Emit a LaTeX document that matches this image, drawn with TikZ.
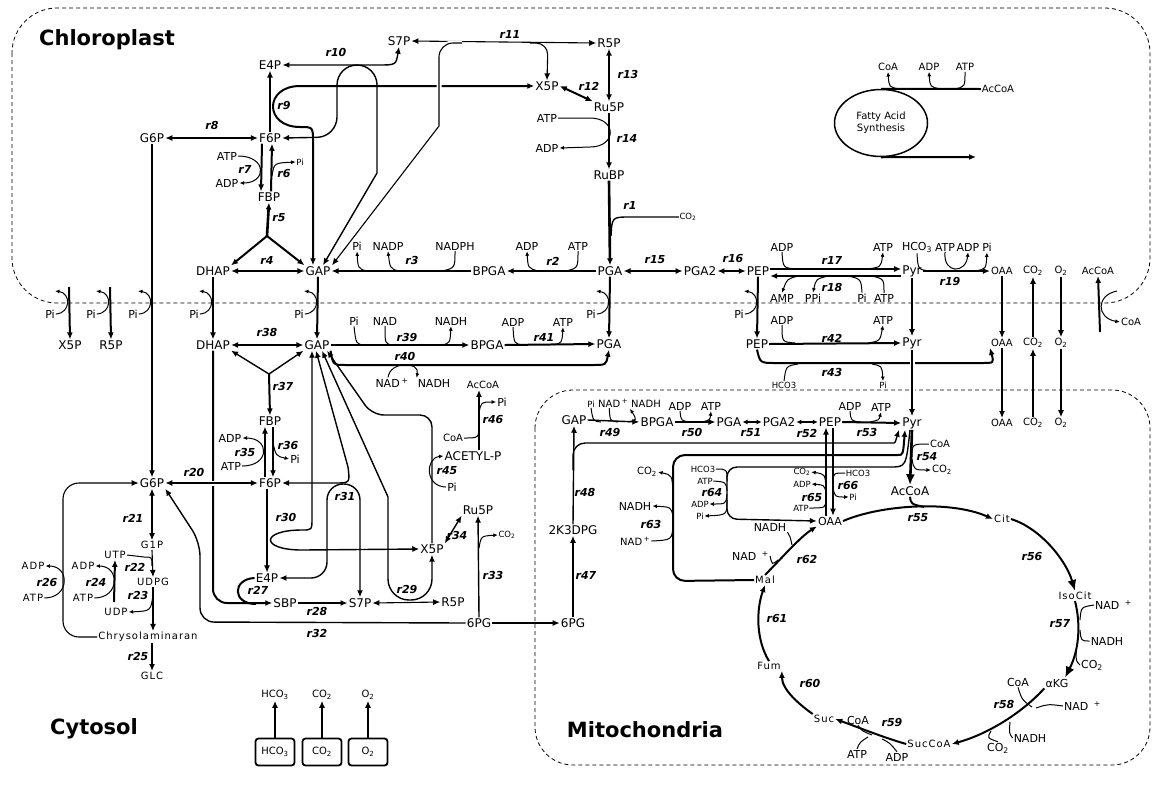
\documentclass[tikz,border=0pt]{standalone}
\usepackage{fontspec}
\setmainfont{DejaVu Sans}
\newfontfamily\spacedsans[LetterSpace=10]{DejaVu Sans}
\usetikzlibrary{arrows.meta,shapes.geometric}

\tikzset{
  met/.style={inner sep=1pt, font=\fontsize{12}{14}\selectfont},
  cof/.style={inner sep=1pt, font=\fontsize{11}{13}\selectfont},
  sm/.style={inner sep=1pt, font=\fontsize{10}{12}\selectfont},
  tiny/.style={inner sep=0.5pt, font=\fontsize{8.5}{10}\selectfont},
  wmet/.style={inner sep=1pt, font=\spacedsans\fontsize{10}{12}\selectfont},
  rxn/.style={inner sep=0pt, font=\fontsize{11}{13}\selectfont\bfseries\itshape},
  title/.style={font=\fontsize{21}{24}\selectfont\bfseries},
  flux/.style={line width=2pt},
  heavy/.style={line width=2.6pt},
  link/.style={line width=1.4pt},
  fine/.style={line width=1.1pt},
  sub/.style={line width=1pt},
  prod/.style={line width=1pt, arrows={-Latex[length=4.5pt,width=4pt]}},
  dbl/.style={line width=1.4pt, arrows={Latex[length=5pt,width=5pt]-Latex[length=5pt,width=5pt]}},
  memb/.style={line width=0.8pt, dash pattern=on 4pt off 3pt},
  gapw/.style={preaction={draw=white, line width=5pt, -}},
  box/.style={draw, line width=1.8pt, rounded corners=3pt, minimum width=39pt, minimum height=27pt, font=\fontsize{10}{12}\selectfont}
}

\begin{document}
\begin{tikzpicture}[x=1pt,y=-1pt,>={Latex[length=7pt,width=6pt]}]
\path[use as bounding box, fill=white] (0,0) rectangle (1155,793);

% compartments
\draw[memb, rounded corners=45pt] (12,8) rectangle (1150,303);
\draw[memb, rounded corners=38pt] (535,390) rectangle (1150,765);
\node[title] (chl) at (107,40) {Chloroplast};
\node[title] (cyt) at (94,729) {Cytosol};
\node[title] (mit) at (645,730) {Mitochondria};

% chloroplast metabolites
\node[met] (E4Pp) at (270,65) {E4P};
\node[met] (S7Pp) at (399,41) {S7P};
\node[met] (R5Pp) at (609,43) {R5P};
\node[met] (X5Pp) at (547,86) {X5P};
\node[met] (Ru5Pp) at (609,107) {Ru5P};
\node[cof] (ATP14) at (547,118) {ATP};
\node[cof] (ADP14) at (547,148) {ADP};
\node[met] (RuBPp) at (609,175) {RuBP};
\node[tiny] (CO2r1) at (688,217) {CO\textsubscript{2}};
\node[met] (G6Pp) at (152,138) {G6P};
\node[met] (F6Pp) at (270,138) {F6P};
\node[cof] (ATP7) at (227,156) {ATP};
\node[cof] (ADP7) at (227,183) {ADP};
\node[tiny] (Pi6) at (300,162) {Pi};
\node[met] (FBPp) at (269,197) {FBP};
\node[met] (DHAPp) at (213,271) {DHAP};
\node[met] (GAPp) at (318,271) {GAP};
\node[cof] (Pi3) at (357,246) {Pi};
\node[cof] (NADP3) at (388,246) {NADP};
\node[cof] (NADPH3) at (455,246) {NADPH};
\node[met] (BPGAp) at (489,271) {BPGA};
\node[cof] (ADP2) at (527,246) {ADP};
\node[cof] (ATP2) at (578,246) {ATP};
\node[met] (PGAp) at (610,271) {PGA};
\node[met] (PGA2p) at (700,271) {PGA2};
\node[met] (PEPp) at (758,271) {PEP};
\node[cof] (ADP17) at (782,247) {ADP};
\node[cof] (ATP17) at (883,247) {ATP};
\node[met] (Pyrp) at (912,271) {Pyr};
\node[cof] (HCO19) at (917,247) {HCO\textsubscript{3}};
\node[cof] (ATP19) at (945,247) {ATP};
\node[cof] (ADP19) at (968,247) {ADP};
\node[cof] (Pi19) at (987,247) {Pi};
\node[cof] (AMP18) at (782,298) {AMP};
\node[cof] (PPi18) at (813,298) {PPi};
\node[cof] (Pi18) at (862,298) {Pi};
\node[cof] (ATP18) at (884,298) {ATP};
\node[sm] (OAAp) at (1002,271) {OAA};
\node[sm] (CO2p) at (1033,271) {CO\textsubscript{2}};
\node[sm] (O2p) at (1061,271) {O\textsubscript{2}};
\node[sm] (AcCoAp) at (1098,271) {AcCoA};
\node[draw, ellipse, line width=1.5pt, minimum width=93pt, minimum height=67pt, inner sep=0pt, align=center, font=\fontsize{10}{12}\selectfont] (FAS) at (881,123) {Fatty Acid\\Synthesis};
\node[sm] (CoAfa) at (888,67) {CoA};
\node[sm] (ADPfa) at (929,67) {ADP};
\node[sm] (ATPfa) at (965,67) {ATP};
\node[sm] (AcCoAfa) at (998,89) {AcCoA};
\coordinate (FAend) at (976,157);

% transporter Pi
\node[cof] (PiX) at (50,314) {Pi};
\node[cof] (PiR) at (91,314) {Pi};
\node[cof] (PiG) at (133,314) {Pi};
\node[cof] (PiD) at (194,314) {Pi};
\node[cof] (PiA) at (299,314) {Pi};
\node[cof] (PiP) at (591,314) {Pi};
\node[cof] (PiE) at (739,314) {Pi};

% cytosol metabolites
\node[met] (X5Py) at (70,345) {X5P};
\node[met] (R5Py) at (111,345) {R5P};
\node[met] (DHAPy) at (213,345) {DHAP};
\node[met] (GAPy) at (317,345) {GAP};
\node[cof] (Pi39) at (354,321) {Pi};
\node[cof] (NAD39) at (385,321) {NAD};
\node[cof] (NADH39) at (451,321) {NADH};
\node[met] (BPGAy) at (487,345) {BPGA};
\node[cof] (ADP41) at (513,322) {ADP};
\node[cof] (ATP41) at (563,322) {ATP};
\node[met] (PGAy) at (609,344) {PGA};
\node[cof] (NAD40) at (392,383) {NAD\,\textsuperscript{+}};
\node[cof] (NADH40) at (434,383) {NADH};
\node[sm] (AcCoA46) at (483,385) {AcCoA};
\node[cof] (Pi46) at (502,402) {Pi};
\node[sm] (CoA46) at (453,438) {CoA};
\node[met] (AcP) at (473,456) {ACETYL-P};
\node[cof] (Pi45) at (452,487) {Pi};
\node[met] (Ru5Py) at (478,510) {Ru5P};
\node[met] (X5Py2) at (432,549) {X5P};
\node[tiny] (CO233) at (507,535) {CO\textsubscript{2}};
\node[met] (PG6y) at (479,623) {6PG};
\node[met] (R5Py2) at (453,602) {R5P};
\node[met] (S7Py) at (360,603) {S7P};
\node[met] (SBPy) at (285,603) {SBP};
\node[met] (E4Py) at (267,578) {E4P};
\node[met] (FBPy) at (270,421) {FBP};
\node[cof] (ADP35) at (230,438) {ADP};
\node[cof] (ATP35) at (231,466) {ATP};
\node[cof] (Pi36) at (295,459) {Pi};
\node[met] (G6Py) at (152,483) {G6P};
\node[met] (F6Py) at (270,483) {F6P};
\node[wmet] (G1P) at (152,545) {G1P};
\node[wmet] (UTP) at (115,555) {UTP};
\node[wmet] (UDPG) at (153,582) {UDPG};
\node[wmet] (UDP) at (116,612) {UDP};
\node[wmet] (Chrys) at (148,637) {Chrysolaminaran};
\node[wmet] (GLC) at (152,676) {GLC};
\node[wmet] (ADP26) at (33,566) {ADP};
\node[wmet] (ATP26) at (33,598) {ATP};
\node[wmet] (ADP24) at (83,566) {ADP};
\node[wmet] (ATP24) at (83,598) {ATP};
\node[met] (PEPy) at (757,344) {PEP};
\node[cof] (ADP42) at (782,320) {ADP};
\node[cof] (ATP42) at (883,320) {ATP};
\node[met] (Pyry) at (912,343) {Pyr};
\node[tiny] (HCO43) at (784,385) {HCO3};
\node[tiny] (Pi43) at (883,385) {Pi};
\node[sm] (OAAy) at (1002,343) {OAA};
\node[sm] (CO2y) at (1033,343) {CO\textsubscript{2}};
\node[sm] (O2y) at (1061,343) {O\textsubscript{2}};
\node[sm] (CoAy) at (1131,322) {CoA};
\node[box] (HCO3b) at (275,752) {HCO\textsubscript{3}};
\node[box] (CO2b) at (322,752) {CO\textsubscript{2}};
\node[box] (O2b) at (368,752) {O\textsubscript{2}};
\node[sm] (HCO3o) at (275,695) {HCO\textsubscript{3}};
\node[sm] (CO2o) at (322,695) {CO\textsubscript{2}};
\node[sm] (O2o) at (368,695) {O\textsubscript{2}};

% mitochondria metabolites
\node[met] (GAPm) at (574,420) {GAP};
\node[tiny] (Pi49) at (591,404) {Pi};
\node[sm,anchor=west] (NAD49) at (597,403) {NAD\,\textsuperscript{+}};
\node[sm] (NADH49) at (646,404) {NADH};
\node[met] (BPGAm) at (657,422) {BPGA};
\node[cof] (ADP50) at (680,406) {ADP};
\node[cof] (ATP50) at (711,406) {ATP};
\node[met] (PGAm) at (729,422) {PGA};
\node[met] (PGA2m) at (779,422) {PGA2};
\node[met] (PEPm) at (830,422) {PEP};
\node[cof] (ADP53) at (850,406) {ADP};
\node[cof] (ATP53) at (881,407) {ATP};
\node[met] (Pyrm) at (912,423) {Pyr};
\node[sm] (OAAm2) at (1002,423) {OAA};
\node[sm] (CO2m) at (1033,423) {CO\textsubscript{2}};
\node[sm] (O2m) at (1061,423) {O\textsubscript{2}};
\node[met] (KDPG) at (573,530) {2K3DPG};
\node[met] (PG6m) at (573,623) {6PG};
\node[sm] (CO263) at (647,472) {CO\textsubscript{2}};
\node[cof] (NADH63) at (635,506) {NADH};
\node[sm,anchor=west] (NAD63) at (619,541) {NAD\,\textsuperscript{+}};
\node[tiny] (HCO64) at (703,469) {HCO3};
\node[tiny] (ATP64) at (705,481) {ATP};
\node[tiny] (ADP64) at (700,504) {ADP};
\node[tiny] (Pi64) at (700,516) {Pi};
\node[tiny] (CO265) at (802,472) {CO\textsubscript{2}};
\node[tiny] (ADP65) at (802,484) {ADP};
\node[tiny] (ATP65) at (801,508) {ATP};
\node[tiny] (HCO66) at (858,473) {HCO3};
\node[tiny] (Pi66) at (853,497) {Pi};
\node[met] (AcCoAm) at (910,491) {AcCoA};
\node[sm] (CoA54) at (940,444) {CoA};
\node[sm] (CO254) at (942,470) {CO\textsubscript{2}};
\node[cof] (OAAm) at (830,521) {OAA};
\node[wmet] (Cit) at (1002,519) {Cit};
\node[wmet] (IsoCit) at (1075,596) {IsoCit};
\node[cof,anchor=west] (NAD57) at (1094,605) {NAD\enspace\textsuperscript{+}};
\node[cof] (NADH57) at (1107,641) {NADH};
\node[cof] (CO257) at (1092,665) {CO\textsubscript{2}};
\node[cof] (aKG) at (1057,683) {αKG};
\node[cof] (CoA58) at (1018,682) {CoA};
\node[cof,anchor=west] (NAD58) at (1063,706) {NAD\enspace\textsuperscript{+}};
\node[cof] (NADH58) at (1030,738) {NADH};
\node[cof] (CO258) at (998,748) {CO\textsubscript{2}};
\node[wmet] (SucCoA) at (929,744) {SucCoA};
\node[cof] (CoA59) at (858,720) {CoA};
\node[cof] (ATP59) at (857,754) {ATP};
\node[cof] (ADP59) at (897,757) {ADP};
\node[wmet] (Suc) at (824,719) {Suc};
\node[wmet] (Fum) at (769,666) {Fum};
\node[wmet] (Mal) at (765,580) {Mal};
\node[cof,anchor=west] (NAD62) at (731,556) {NAD\enspace\textsuperscript{+}};
\node[cof] (NADH62) at (770,527) {NADH};

% reaction labels
\node[rxn] (r1) at (630,205) {r1};
\node[rxn] (r2) at (553,261) {r2};
\node[rxn] (r3) at (412,260) {r3};
\node[rxn] (r4) at (267,260) {r4};
\node[rxn] (r5) at (279,218) {r5};
\node[rxn] (r6) at (284,174) {r6};
\node[rxn] (r7) at (245,169) {r7};
\node[rxn] (r8) at (212,125) {r8};
\node[rxn] (r9) at (284,106) {r9};
\node[rxn] (r10) at (336,52) {r10};
\node[rxn] (r11) at (510,34) {r11};
\node[rxn] (r12) at (589,86) {r12};
\node[rxn] (r13) at (628,74) {r13};
\node[rxn] (r14) at (627,138) {r14};
\node[rxn] (r15) at (655,260) {r15};
\node[rxn] (r16) at (733,258) {r16};
\node[rxn] (r17) at (832,260) {r17};
\node[rxn] (r18) at (832,287) {r18};
\node[rxn] (r19) at (950,281) {r19};
\node[rxn] (r20) at (194,472) {r20};
\node[rxn] (r21) at (133,518) {r21};
\node[rxn] (r22) at (135,567) {r22};
\node[rxn] (r23) at (138,595) {r23};
\node[rxn] (r24) at (96,582) {r24};
\node[rxn] (r25) at (138,656) {r25};
\node[rxn] (r26) at (47,582) {r26};
\node[rxn] (r27) at (258,590) {r27};
\node[rxn] (r28) at (317,611) {r28};
\node[rxn] (r29) at (407,589) {r29};
\node[rxn] (r30) at (286,517) {r30};
\node[rxn] (r31) at (345,496) {r31};
\node[rxn] (r32) at (317,633) {r32};
\node[rxn] (r33) at (493,575) {r33};
\node[rxn] (r34) at (457,535) {r34};
\node[rxn] (r35) at (245,452) {r35};
\node[rxn] (r36) at (288,445) {r36};
\node[rxn] (r37) at (283,386) {r37};
\node[rxn] (r38) at (267,332) {r38};
\node[rxn] (r39) at (407,337) {r39};
\node[rxn] (r40) at (405,356) {r40};
\node[rxn] (r41) at (544,337) {r41};
\node[rxn] (r42) at (832,338) {r42};
\node[rxn] (r43) at (832,372) {r43};
\node[rxn] (r45) at (447,471) {r45};
\node[rxn] (r46) at (493,419) {r46};
\node[rxn] (r47) at (586,575) {r47};
\node[rxn] (r48) at (585,492) {r48};
\node[rxn] (r49) at (610,432) {r49};
\node[rxn] (r50) at (692,432) {r50};
\node[rxn] (r51) at (751,433) {r51};
\node[rxn] (r52) at (807,433) {r52};
\node[rxn] (r53) at (867,432) {r53};
\node[rxn] (r54) at (927,457) {r54};
\node[rxn] (r55) at (918,518) {r55};
\node[rxn] (r56) at (1032,556) {r56};
\node[rxn] (r57) at (1060,624) {r57};
\node[rxn] (r58) at (1004,704) {r58};
\node[rxn] (r59) at (892,722) {r59};
\node[rxn] (r60) at (810,683) {r60};
\node[rxn] (r61) at (777,618) {r61};
\node[rxn] (r62) at (807,559) {r62};
\node[rxn] (r63) at (651,524) {r63};
\node[rxn] (r64) at (712,492) {r64};
\node[rxn] (r65) at (812,497) {r65};
\node[rxn] (r66) at (848,485) {r66};

% Calvin cycle
\draw[heavy,->] (RuBPp.south) -- (PGAp.north);
\draw[link] (CO2r1.west) -- (630,217) .. controls (612,217) .. (611,236);
\draw[flux,->] (PGAp.west) -- (BPGAp.east);
\draw[sub] (ATP2.south) .. controls (578,268) .. (566,271);
\draw[prod] (538,271) .. controls (528,268) .. (ADP2.south);
\draw[flux,->] (BPGAp.west) -- (GAPp.east);
\draw[sub] (NADPH3.south) .. controls (455,268) .. (442,271);
\draw[prod] (398,271) .. controls (390,268) .. (NADP3.south);
\draw[prod] (366,271) .. controls (358,268) .. (Pi3.south);
\draw[flux,<->] (DHAPp.east) -- (GAPp.west);
\coordinate (Y5) at (267,236);
\draw[heavy,->] (Y5) -- (FBPp.south);
\draw[flux,->] (Y5) -- (DHAPp.north east);
\draw[flux,->] (Y5) -- (GAPp.north west);
\draw[flux,->] ([xshift=-8pt]F6Pp.south) -- ([xshift=-8pt]FBPp.north);
\draw[flux,->] ([xshift=2pt]FBPp.north) -- ([xshift=2pt]F6Pp.south);
\draw[prod] (ATP7.east) .. controls (267,156) and (267,183) .. (ADP7.east);
\draw[prod] (272,176) .. controls (274,163) .. (Pi6.west);
\draw[flux,<->] (G6Pp.east) -- (F6Pp.west);
\draw[flux,->] (F6Pp.north) -- (E4Pp.south);
\draw[flux,<->] ([xshift=-5pt]GAPp.north) -- (313,142) .. controls (313,127) .. (300,127) .. controls (264,127) and (264,86) .. (300,86) -- (X5Pp.west);
\draw[link,<->] (E4Pp.east) -- (378,65) .. controls (396,65) .. (S7Pp.south);
\draw[link,<->] ([xshift=5pt]GAPp.north) -- (377,173) [rounded corners=20pt] -- (377,65) -- (337,65) -- (337,137) -- (F6Pp.east);
\draw[fine,<->] (S7Pp.east) -- (R5Pp.west);
\draw[fine,<-,gapw] ([xshift=14pt]GAPp.north) -- (439,126) [rounded corners=14pt] -- (439,43) -- (462,43);
\draw[fine,->] (530,43) [rounded corners=12pt] -- (548,43) -- (X5Pp.north);
\draw[flux,<->] (X5Pp.east) -- (Ru5Pp.north west);
\draw[flux,<->] (R5Pp.south) -- (Ru5Pp.north);
\draw[flux,->] (Ru5Pp.south) -- (RuBPp.north);
\draw[prod] (ATP14.east) -- (590,118) .. controls (617,118) and (617,147) .. (590,147) -- (ADP14.east);

% lower glycolysis and anaplerosis in the chloroplast
\draw[flux,<->] (PGAp.east) -- (PGA2p.west);
\draw[flux,<->] (PGA2p.east) -- (PEPp.west);
\draw[flux,->] ([yshift=2pt]PEPp.east) -- ([yshift=2pt]Pyrp.west);
\draw[sub] (ADP17.south) .. controls (783,268) .. (797,269);
\draw[prod] (868,269) .. controls (881,267) .. (ATP17.south);
\draw[flux,->] ([yshift=-5pt]Pyrp.west) -- ([yshift=-5pt]PEPp.east);
\draw[prod] (798,276) .. controls (787,279) .. (AMP18.north);
\draw[prod] (828,276) .. controls (816,279) .. (PPi18.north);
\draw[sub] (Pi18.north) .. controls (861,279) .. (848,276);
\draw[sub] (ATP18.north) .. controls (884,279) .. (872,276);
\draw[flux,->] (Pyrp.east) -- (OAAp.west);
\draw[sub] (HCO19.south) .. controls (918,270) .. (932,271);
\draw[prod] (ATP19.south) .. controls (943,274) and (966,274) .. (ADP19.south);
\draw[prod] (975,271) .. controls (986,269) .. (Pi19.south);
\draw[flux] (AcCoAfa.west) -- (FAS.north);
\draw[flux,->] (FAS.south) -- (FAend);
\draw[prod] (899,89) .. controls (889,87) .. (CoAfa.south);
\draw[prod] (941,89) .. controls (930,87) .. (ADPfa.south);
\draw[sub] (ATPfa.south) .. controls (965,87) .. (954,89);

% transport across the chloroplast envelope
\coordinate (X5Pin) at (69,287);
\coordinate (R5Pin) at (110,287);
\coordinate (AcCoAin) at (1100,332);
\draw[flux,->] (X5Pin) -- (X5Py.north);
\draw[flux,->] (R5Pin) -- (R5Py.north);
\draw[fine,->] (G6Pp.south) -- (G6Py.north);
\draw[flux,->] (DHAPp.south) -- (DHAPy.north);
\draw[flux,->] (GAPp.south) -- (GAPy.north);
\draw[flux,->] (PGAp.south) -- (PGAy.north);
\draw[flux,->] (PEPp.south) -- (PEPy.north);
\draw[flux,->] (Pyrp.south) -- (Pyry.north);
\draw[flux,->] (OAAp.south) -- (OAAy.north);
\draw[flux,->] (CO2y.north) -- (CO2p.south);
\draw[flux,->] (O2p.south) -- (O2y.north);
\draw[flux,->] (AcCoAin) -- (AcCoAp.south);
\draw[prod] (1117,291) .. controls (1096,295) and (1096,318) .. (CoAy.west);
\draw[prod] (PiX.east) .. controls (71,313) and (71,293) .. (55,291);
\draw[prod] (PiR.east) .. controls (112,313) and (112,293) .. (96,291);
\draw[prod] (PiG.east) .. controls (154,313) and (154,293) .. (138,291);
\draw[prod] (PiD.east) .. controls (215,313) and (215,293) .. (199,291);
\draw[prod] (PiA.east) .. controls (320,313) and (320,293) .. (304,291);
\draw[prod] (PiP.east) .. controls (612,313) and (612,293) .. (596,291);
\draw[prod] (PiE.east) .. controls (760,313) and (760,293) .. (744,291);

% cytosol
\draw[flux,<->] (DHAPy.east) -- (GAPy.west);
\coordinate (Y37) at (269,374);
\draw[link,->] (Y37) -- (DHAPy.south east);
\draw[link,->] (Y37) -- (GAPy.south west);
\draw[flux,->] (Y37) -- (FBPy.north);
\draw[flux,->] ([xshift=-5pt]F6Py.north) -- ([xshift=-5pt]FBPy.south);
\draw[flux,->] ([xshift=3pt]FBPy.south) -- ([xshift=3pt]F6Py.north);
\draw[prod] (ATP35.east) .. controls (270,466) and (270,438) .. (ADP35.east);
\draw[prod] (273,443) .. controls (276,456) .. (Pi36.west);
\draw[flux,->,rounded corners=14pt] (DHAPy.south) -- (DHAPy.south |- SBPy.west) -- (SBPy.west);
\draw[flux] (E4Py.west) .. controls (232,579) and (232,604) .. (256,604);
\draw[flux,->] (SBPy.east) -- (S7Py.west);
\draw[flux,<->,gapw] (G6Py.east) -- (F6Py.west);
\draw[fine,<->] (G6Py.south) -- (G1P.north);
\draw[fine,->] (G1P.south) -- (UDPG.north);
\draw[sub] (UTP.east) -- (144,557) .. controls (152,557) .. (152,566);
\coordinate (UTPin) at (114,602);
\draw[flux,->] (UTPin) -- (UTP.south);
\draw[prod] (ATP24.east) .. controls (120,598) and (120,566) .. (ADP24.east);
\draw[fine,->] (UDPG.south) -- (UDPG.south |- Chrys.north);
\draw[prod] (153,594) .. controls (151,611) .. (UDP.east);
\draw[flux,->] (GLC.north |- Chrys.south) -- (GLC.north);
\draw[fine,->,rounded corners=16pt] (Chrys.west) -- (63,637) -- (63,483) -- (G6Py.west);
\draw[prod] (ATP26.east) .. controls (70,598) and (70,566) .. (ADP26.east);
\draw[link,<-,rounded corners=14pt] (G6Py.south east) -- (200,542) -- (200,622) -- (PG6y.west);
\draw[fine,->] (E4Py.north |- F6Py.south) -- (E4Py.north);
\draw[link,<->] ([xshift=-5pt]GAPy.south) -- (312,518) .. controls (312,530) .. (302,530) .. controls (260,530) and (260,550) .. (302,550) -- (X5Py2.west);
\draw[link,<->] ([xshift=-1pt]GAPy.south) -- (348,467) .. controls (350,483) .. (335,483) -- (F6Py.east);
\draw[link,<->,rounded corners=16pt] (E4Py.east) -- (327,578) -- (327,484) -- (360,484) -- (S7Py.north);
\draw[link,<->] ([xshift=5pt]GAPy.south) -- (388,497) [rounded corners=21pt] -- (388,600) -- (432,600) -- (X5Py2.south);
\draw[fine,<->] (S7Py.east) -- (R5Py2.west);
\draw[link,<-,rounded corners=12pt] ([xshift=10pt]GAPy.south) -- (372,415) -- (432,415) -- (X5Py2.north);
\draw[prod] (Pi45.west) .. controls (425,487) and (425,458) .. (AcP.west);
\draw[link,->] ([xshift=6pt]AcP.north) -- ([xshift=-4pt]AcCoA46.south);
\draw[sub] (CoA46.east) .. controls (479,438) .. (479,424);
\draw[prod] (479,413) .. controls (481,402) .. (Pi46.west);
\draw[link,<->] (X5Py2.north east) -- (Ru5Py.south west);
\draw[link,->] (PG6y.north) -- (Ru5Py.south);
\draw[prod] (479,548) .. controls (481,536) .. (CO233.west);
\draw[flux,->] (GAPy.east) -- (BPGAy.west);
\draw[sub] (Pi39.south) .. controls (356,344) .. (364,345);
\draw[sub] (NAD39.south) .. controls (385,344) .. (393,345);
\draw[prod] (442,345) .. controls (450,343) .. (NADH39.south);
\draw[flux,->] (BPGAy.east) -- (PGAy.west);
\draw[sub] (ADP41.south) .. controls (514,344) .. (524,345);
\draw[prod] (553,345) .. controls (562,343) .. (ATP41.south);
\draw[flux,->] (GAPy.south east) .. controls (333,365) .. (346,365) -- (592,365) .. controls (606,365) .. (PGAy.south);
\draw[prod] ([xshift=-4pt]NAD40.north) .. controls (390,361) and (420,361) .. (NADH40.north west);
\draw[flux,->] (PEPy.east) -- (Pyry.west);
\draw[sub] (ADP42.south) .. controls (782,342) .. (795,343);
\draw[prod] (868,343) .. controls (880,341) .. (ATP42.south);
\draw[flux,->] (PEPy.south) .. controls (760,363) .. (776,363) -- (982,363) .. controls (994,363) .. (OAAy.south west);
\draw[sub] (HCO43.north) .. controls (786,366) .. (798,364);
\draw[prod] (872,364) .. controls (882,366) .. (Pi43.north);
\draw[flux,->,gapw] (Pyry.south) -- (Pyrm.north);
\draw[flux,->] (OAAy.south) -- (OAAm2.north);
\draw[flux,->] (CO2m.north) -- (CO2y.south);
\draw[flux,->] (O2y.south) -- (O2m.north);
\draw[link,->] (HCO3b) -- (HCO3o);
\draw[link,->] (CO2b) -- (CO2o);
\draw[link,->] (O2b) -- (O2o);

% mitochondria
\draw[link,->] (GAPm.east) -- (BPGAm.west);
\draw[sub] (Pi49.south) .. controls (593,421) .. (601,422);
\draw[sub] ([xshift=-4pt]NAD49.south) .. controls (610,421) .. (618,422);
\draw[prod] (628,422) .. controls (637,420) .. (NADH49.south west);
\draw[link,->] (BPGAm.east) -- (PGAm.west);
\draw[sub] (ADP50.south) .. controls (681,421) .. (691,422);
\draw[prod] (702,422) .. controls (710,420) .. (ATP50.south);
\draw[dbl] (PGAm.east) -- (PGA2m.west);
\draw[dbl] (PGA2m.east) -- (PEPm.west);
\draw[flux,->] (PEPm.east) -- (Pyrm.west);
\draw[sub] (ADP53.south) .. controls (851,421) .. (861,422);
\draw[prod] (870,422) .. controls (879,420) .. (ATP53.south);
\draw[link,->] (PG6y.east) -- (PG6m.west);
\draw[flux,->] (PG6m.north) -- (KDPG.south);
\draw[link,->] (KDPG.north) -- (GAPm.south);
\draw[link,->] (573,470) [rounded corners=12pt] -- (573,443) -- (882,443) [sharp corners] .. controls (895,443) .. ([xshift=-13pt]Pyrm.south);
\draw[flux,->,rounded corners=12pt] (Mal.west) -- (673,581) -- (673,455) -- (886,455) [sharp corners] .. controls (903,455) .. ([xshift=-7pt]Pyrm.south);
\draw[prod] (673,492) .. controls (672,475) .. (CO263.east);
\draw[prod] (673,516) .. controls (671,507) .. (NADH63.east);
\draw[sub] (NAD63.east) .. controls (672,540) .. (673,525);
\draw[link,->] ([xshift=-2pt]Pyrm.south) .. controls (906,467) .. (890,467) [rounded corners=10pt] -- (727,467) -- (727,519) -- (OAAm.west);
\draw[sub] (HCO64.east) .. controls (727,469) .. (727,481);
\draw[sub] (ATP64.east) .. controls (726,482) .. (727,491);
\draw[prod] (727,494) .. controls (726,504) .. (ADP64.east);
\draw[prod] (727,500) .. controls (727,515) .. (Pi64.east);
\draw[fine,->] ([xshift=-4pt]OAAm.north) -- ([xshift=-4pt]PEPm.south);
\draw[fine,->] ([xshift=3pt]PEPm.south) -- ([xshift=3pt]OAAm.north);
\draw[sub] (ATP65.east) .. controls (826,508) .. (826,498);
\draw[prod] (826,488) .. controls (825,474) .. (CO265.east);
\draw[prod] (826,492) .. controls (824,485) .. (ADP65.east);
\draw[sub] (HCO66.west) .. controls (833,473) .. (833,484);
\draw[prod] (833,488) .. controls (835,497) .. (Pi66.west);

% TCA cycle
\draw[heavy,-{Latex[length=11pt,width=9pt]}] (Pyrm.south) -- (AcCoAm.north);
\draw[sub] (CoA54.west) .. controls (912,444) .. (912,457);
\draw[prod] (912,459) .. controls (914,470) .. (CO254.west);
\draw[flux,->] (OAAm.east) .. controls (880,505) and (950,500) .. (Cit.west);
\draw[flux] (AcCoAm.south) .. controls (911,504) .. (924,507);
\draw[flux,-{Latex[length=11pt,width=9pt]}] (Cit.east) .. controls (1040,528) and (1066,560) .. (IsoCit.north);
\draw[flux,-{Latex[length=11pt,width=9pt]}] (IsoCit.south) .. controls (1081,625) and (1079,650) .. ([xshift=8pt]aKG.north);
\draw[sub] (NAD57.west) .. controls (1081,607) .. (1080,620);
\draw[sub] (1080,630) .. controls (1081,641) .. (NADH57.west);
\draw[sub] (1076,651) .. controls (1076,661) .. (CO257.west);
\draw[flux,->] (aKG.south west) .. controls (1020,715) and (985,735) .. (SucCoA.east);
\draw[sub] (CoA58.south) .. controls (1022,700) .. (1032,707);
\draw[sub] (NAD58.west) .. controls (1048,704) .. (1036,708);
\draw[sub] (1010,722) .. controls (1009,733) .. (NADH58.west);
\draw[sub] (991,731) .. controls (987,738) .. (CO258.north);
\draw[flux,->] (SucCoA.west) .. controls (885,738) and (860,728) .. (Suc.east);
\draw[sub] (CoA59.south) .. controls (862,731) .. (872,735);
\draw[sub] (ATP59.north) .. controls (860,742) .. (868,737);
\draw[sub] (882,739) .. controls (890,743) .. (ADP59.north);
\draw[flux,->] (Suc.north west) .. controls (800,705) and (782,690) .. (Fum.south east);
\draw[flux,->] (Fum.north) .. controls (756,640) and (756,610) .. (Mal.south);
\draw[flux,->] (Mal.north) .. controls (780,560) and (800,537) .. (OAAm.south west);
\draw[sub] (NAD62.east) .. controls (772,565) .. (778,560);
\draw[sub] (792,545) .. controls (790,536) .. (NADH62.south east);
\end{tikzpicture}
\end{document}
